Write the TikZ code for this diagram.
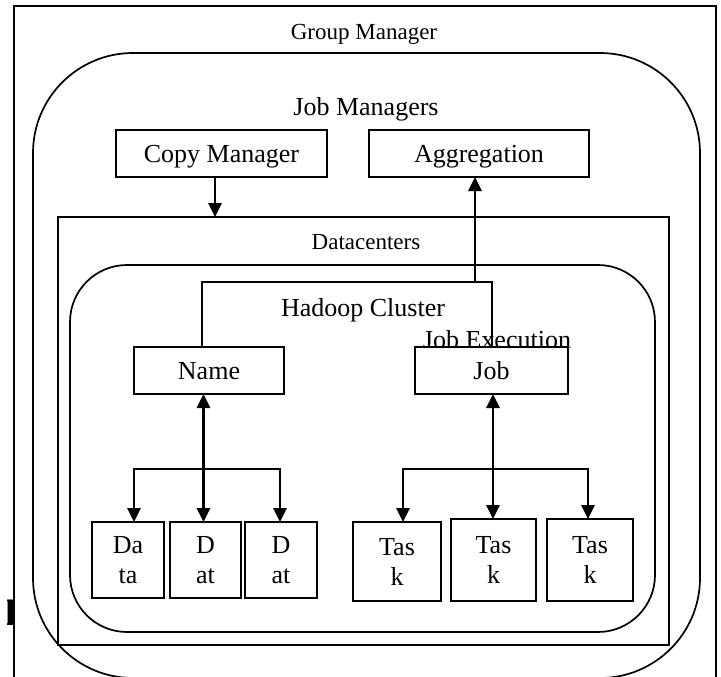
\documentclass[tikz,border=0pt]{standalone}
\usepackage{fontspec}
\setmainfont{Liberation Serif}
\usetikzlibrary{arrows.meta}
\newcommand\fbig{\fontsize{26}{30}\selectfont}
\newcommand\fsml{\fontsize{23}{27}\selectfont}
\begin{document}
\begin{tikzpicture}[x=1pt,y=-1pt,
  frame/.style={draw, line width=1.7pt, inner sep=0pt, outer sep=0pt},
  box/.style={draw, line width=2pt, fill=white, inner sep=0pt, outer sep=0pt, font=\fbig, text height=18pt, text depth=0pt},
  tallbox/.style={draw, line width=2pt, fill=white, inner sep=0pt, outer sep=0pt, font=\fbig, align=center},
  lbl/.style={anchor=base, inner sep=0pt},
  arr/.style={line width=2.8pt, -{Triangle[length=14pt,width=13pt]}},
  darr/.style={line width=2.8pt, line join=miter, {Triangle[length=14pt,width=13pt]}-{Triangle[length=14pt,width=13pt]}},
  thinlink/.style={line width=1.8pt, line join=miter}]
\useasboundingbox (0,0) rectangle (721,677);
\clip (0,0) rectangle (721,677);
% containers
\node[frame, minimum width=702pt, minimum height=694pt] (gm) at (365,353) {};
\node[frame, rounded corners=100pt, minimum width=667pt, minimum height=625pt] (jm) at (366.5,365.5) {};
\node[frame, minimum width=611pt, minimum height=428pt] (dc) at (363.5,431) {};
\node[frame, rounded corners=57pt, minimum width=585pt, minimum height=367pt] (hc) at (362.5,448.5) {};
% labels
\node[lbl, font=\fsml] (tgm) at (364,40) {Group Manager};
\node[lbl, font=\fbig] (tjm) at (366,116) {Job Managers};
\node[lbl, font=\fsml] (tdc) at (366,249) {Datacenters};
\node[lbl, font=\fbig] (thc) at (363,316) {Hadoop Cluster};
\node[lbl, font=\fbig] (tje) at (497,348) {Job Execution};
\begin{scope}
\clip (7,590) rectangle (13.5,640);
\node[lbl, font=\fontsize{39}{42}\selectfont\bfseries] (ii) at (11,625) {I};
\end{scope}
% boxes
\node[box, minimum width=211pt, minimum height=47pt] (cm) at (221.5,153.5) {Copy Manager};
\node[box, minimum width=220pt, minimum height=47pt] (ag) at (479,153.5) {Aggregation};
\node[box, minimum width=150pt, minimum height=47pt] (nm) at (209,370.5) {Name};
\node[box, minimum width=153pt, minimum height=47pt] (jb) at (491.5,370.5) {Job};
\node[tallbox, minimum width=72pt, minimum height=76pt] (d1) at (128,560) {Da\\ta};
\node[tallbox, minimum width=71pt, minimum height=76pt] (d2) at (205.5,560) {D\\at};
\node[tallbox, minimum width=72pt, minimum height=76pt] (d3) at (281,560) {D\\at};
\node[tallbox, minimum width=88pt, minimum height=79pt] (t1) at (397,561.5) {Tas\\k};
\node[tallbox, minimum width=85pt, minimum height=82pt] (t2) at (493.5,560) {Tas\\k};
\node[tallbox, minimum width=86pt, minimum height=82pt] (t3) at (590,560) {Tas\\k};
% connectors
\coordinate (cmx) at (215,0);
\draw[arr] (cm.south -| cmx) -- (dc.north -| cmx);
\coordinate (brL) at (202,282);
\coordinate (brR) at (492,282);
\draw[thinlink] (nm.north -| brL) -- (brL) -- (brR) -- (jb.north -| brR);
\coordinate (agf) at (475,282);
\draw[arr] (agf) -- (ag.south -| agf);
% name node fan
\coordinate (nx) at (203.5,0);
\draw[darr] (nm.south -| nx) -- (d2.north -| nx);
\coordinate (nL) at (134,469);
\coordinate (nR) at (280,469);
\draw[darr] (d1.north -| nL) -- (nL) -- (nR) -- (d3.north -| nR);
% job node fan
\coordinate (jx) at (493,0);
\draw[darr] (jb.south -| jx) -- (t2.north -| jx);
\coordinate (jL) at (403,469);
\coordinate (jR) at (588,469);
\draw[darr] (t1.north -| jL) -- (jL) -- (jR) -- (t3.north -| jR);
\end{tikzpicture}
\end{document}
